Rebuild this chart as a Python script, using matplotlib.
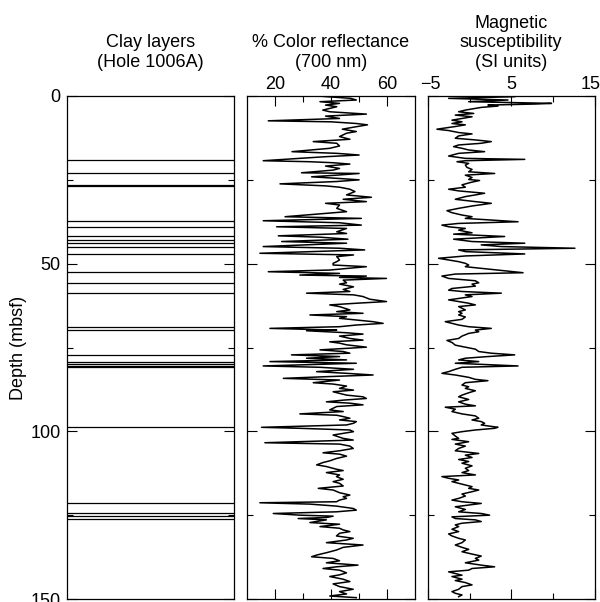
import numpy as np
import matplotlib
matplotlib.use("Agg")
import matplotlib.pyplot as plt
import matplotlib.transforms as mtransforms
from matplotlib.ticker import FixedLocator, NullFormatter

plt.rcParams['font.family'] = ['Liberation Sans', 'DejaVu Sans']
plt.rcParams['font.size'] = 13

# clay layer depths (mbsf)
clay_depths = [19.1, 22.9, 26.4, 26.9, 37.3, 39.0, 41.8, 42.9, 43.9, 45.1, 47.2,
               52.4, 55.9, 58.7, 69.0, 69.8, 77.2, 79.4, 79.9, 80.5, 80.9,
               98.8, 121.5, 124.5, 125.1, 126.0]

# color reflectance (700 nm): depth, percent
refl_depth = [0.0, 0.7, 1.2, 1.7, 2.2, 2.7, 3.2, 4.2, 4.7, 5.4, 6.0, 6.7, 7.4, 7.7, 8.2, 8.6, 9.3, 9.9,
              10.6, 11.1, 12.1, 12.9, 13.6, 14.1, 14.9, 15.6, 16.6, 17.1, 17.6, 18.1, 19.3, 19.6, 19.9,
              20.3, 20.9, 21.6, 22.1, 22.9, 23.1, 23.6, 24.1, 24.6, 25.0, 25.5, 26.2, 26.8, 27.2, 27.8,
              28.5, 29.5, 30.2, 30.8, 31.5, 32.0, 32.5, 33.5, 34.5, 36.0, 36.5, 37.2, 37.8, 38.5, 39.0,
              39.5, 40.5, 41.0, 41.7, 42.1, 42.7, 43.4, 43.9, 44.9, 45.4, 45.9, 46.9, 47.4, 47.9, 48.9,
              49.4, 49.9, 50.4, 50.9, 51.9, 52.4, 52.9, 53.4, 53.7, 54.1, 54.4, 54.9, 55.7, 56.1, 56.9,
              57.7, 58.3, 58.8, 59.3, 59.8, 60.6, 61.3, 61.8, 62.3, 62.8, 63.8, 64.3, 64.8, 65.3, 65.8,
              66.3, 67.3, 67.8, 68.3, 68.8, 69.3, 69.8, 70.0, 70.6, 71.0, 71.6, 72.3, 72.8, 73.3, 73.7,
              74.2, 74.9, 75.2, 75.7, 76.2, 76.7, 77.2, 77.7, 78.2, 78.7, 79.2, 79.7, 80.5, 80.9, 81.5,
              82.2, 82.7, 83.2, 83.7, 84.2, 84.7, 85.5, 85.9, 86.5, 87.2, 87.7, 88.2, 89.2, 89.7, 90.2,
              90.7, 91.2, 91.6, 92.1, 92.6, 93.6, 94.1, 94.8, 95.2, 95.6, 96.1, 96.6, 97.1, 97.6, 98.1,
              98.8, 99.1, 99.6, 100.1, 101.1, 102.1, 102.6, 103.4, 103.8, 104.4, 105.1, 105.8, 106.4,
              106.8, 107.4, 108.1, 108.8, 109.3, 110.0, 110.5, 111.3, 111.7, 112.3, 113.0, 113.5, 114.3,
              115.0, 115.5, 116.3, 117.0, 117.5, 118.3, 119.0, 119.5, 120.0, 120.5, 121.0, 121.3, 121.7,
              122.3, 123.0, 123.5, 124.0, 124.5, 125.0, 125.3, 125.7, 126.0, 126.4, 127.2, 127.7, 128.4,
              128.9, 129.4, 129.9, 130.4, 131.2, 131.9, 132.4, 133.2, 133.9, 134.6, 135.4, 136.2, 136.9,
              137.4, 137.9, 138.6, 139.2, 139.9, 140.4, 140.9, 141.4, 142.2, 142.8, 143.3, 144.1, 144.8,
              145.5, 146.3, 147.1, 147.8, 148.5, 149.1, 149.6]
refl_value = [35, 47, 49, 36, 43, 38, 42, 37, 39.5, 52.6, 38, 43, 17.5, 40, 49, 53, 48, 44,
              49, 45.5, 43, 46.7, 33.6, 42, 43, 39.5, 26, 42, 50, 38, 15.7, 32.4, 40.7,
              46.7, 38, 43, 40.7, 29.4, 50, 42, 33, 43, 50, 42, 21.7, 38, 43, 46.7,
              48.5, 45.5, 54.4, 44.3, 52.6, 38, 43, 42, 45.5, 23.5, 50.8, 15.7, 43, 50.8, 20.5,
              45.5, 42, 45.5, 21.1, 36, 46, 22.3, 45.5, 15.7, 43, 52, 14.5, 48, 42, 43,
              42, 40.7, 40.7, 52.6, 39.5, 17.5, 43, 28.8, 52.6, 43, 59.8, 44.3, 45.5, 43, 48,
              44.3, 46.7, 31.2, 48, 51.4, 53.8, 59.8, 49, 39.5, 43, 46.7, 42, 51.4, 32.4, 45.5,
              43, 55, 58.6, 49, 43, 18.1, 42, 31.2, 45.5, 51.4, 43, 46.7, 51.4, 39.5, 43,
              45.5, 52.6, 46.7, 36, 44.3, 46.7, 25.8, 43, 31.2, 45.5, 18.1, 49, 15.7, 36, 48,
              34.8, 45.5, 55, 38.3, 22.9, 43, 33.6, 40.7, 45.5, 43, 48, 40.7, 45.5, 51.4, 52.6,
              44.3, 38.3, 46.7, 51.4, 42, 39.5, 44.3, 28.8, 42, 44.3, 46.7, 43, 49, 48, 45.5,
              15.1, 28.8, 46.7, 48, 40.7, 44.3, 47.9, 16.3, 43, 46.7, 47.9, 43, 37.1,
              43, 45.5, 41.9, 39.5, 37.1, 34.8, 38.3, 41.9, 44.3, 38.3, 43, 41.9, 44.3,
              40.7, 43, 44.3, 35.4, 40.7, 43, 46.7, 44.3, 45.5, 43, 41.9, 14.5, 32.4,
              41.9, 47.9, 49, 41.9, 19.3, 28.8, 40.7, 38.3, 28.2, 38.3, 32.4, 43, 36,
              43, 44.3, 46.7, 43, 41.9, 47.9, 45.5, 38.3, 51.4, 44.3, 41.9, 38.3, 34.8,
              33, 40.7, 43, 38.3, 49.6, 41.9, 37.1, 43, 45.5, 43, 39.5, 44.3, 46.7,
              40.7, 43, 47.9, 43, 45.5, 39.5, 49]

# magnetic susceptibility: depth, SI units
mag_depth = [0.2, 0.7, 1.2, 1.7, 2.2, 2.4, 2.7, 3.0, 3.4, 4.2, 4.7, 5.2, 5.7, 6.2, 7.2, 7.7, 8.2, 8.6,
             9.1, 9.9, 10.3, 10.9, 11.3, 11.9, 12.6, 13.1, 13.6, 14.1, 14.6, 15.1, 15.6, 16.1, 16.6,
             17.1, 17.9, 18.6, 18.9, 19.3, 19.6, 20.1, 20.6, 21.3, 21.9, 22.6, 23.1, 23.6, 24.3, 24.9,
             25.2, 25.8, 26.5, 27.2, 27.8, 28.3, 29.0, 29.5, 30.0, 30.8, 31.5, 32.0, 32.8, 33.5, 34.2,
             34.8, 35.5, 36.0, 36.5, 37.5, 38.0, 38.5, 39.0, 39.5, 40.0, 40.8, 41.2, 41.9, 42.7, 43.4,
             43.9, 44.4, 44.9, 45.4, 45.9, 46.4, 47.1, 47.7, 48.4, 48.9, 49.4, 49.9, 50.4, 50.9,
             52.7, 53.1, 53.7, 54.4, 55.1, 55.7, 56.1, 56.7, 57.4, 57.9, 58.3, 58.8, 59.3, 59.8, 60.8,
             61.3, 61.8, 62.3, 62.8, 63.8, 64.3, 64.8, 65.3, 65.9, 66.6, 67.3, 67.8, 68.3, 68.8, 69.3,
             69.8, 70.3, 70.8, 71.6, 72.3, 72.9, 73.5, 74.3, 74.9, 75.5, 76.2, 76.7, 77.2, 77.7, 78.2,
             78.7, 79.2, 79.7, 80.5, 80.9, 81.5, 82.2, 82.7, 83.2, 83.9, 84.5, 84.9, 85.5, 86.2, 86.7,
             87.2, 87.9, 88.5, 89.2, 89.7, 90.5, 91.2, 91.9, 92.4, 92.8, 93.4, 94.1, 94.8, 95.4, 96.1,
             96.6, 97.1, 97.6, 98.1, 98.8, 99.1, 99.6, 100.1, 100.6, 101.4, 102.1,
             102.4, 103.1, 103.8, 104.4, 105.1, 105.8, 106.6, 107.1, 107.8, 108.4, 109.0, 109.5, 110.3,
             111.0, 111.7, 112.3, 113.0, 113.5, 114.0, 114.5, 115.0, 115.5, 116.0, 116.5, 117.0, 117.5,
             118.0, 118.7, 119.3, 120.0, 120.5, 121.0, 121.5, 122.0, 122.5, 123.3, 124.0, 124.5, 125.0,
             125.5, 126.0, 126.4, 126.9, 127.4, 127.9, 128.4, 129.2, 129.9, 130.6, 131.2, 131.9, 132.4,
             133.2, 133.9, 134.6, 135.2, 135.9, 136.6, 137.2, 137.9, 138.4, 139.2, 139.9, 140.4, 140.9,
             141.4, 141.9, 142.4, 142.9, 143.3, 144.1, 144.5, 145.1, 145.8, 146.3, 147.1, 147.8, 148.3,
             148.8, 149.3]
mag_value = [5.4, -2.5, 4.6, -0.1, 9.8, 7.8, 2.2, 3.4, 1.4, -0.5, -1.3, 0.5, -1.7, 0.3, -2.1, -0.9, -2.1, -0.5,
             -1.7, -3.9, -2.5, -1.3, 0.3, -1.3, -1.7, 0.7, 2.6, 1.4, -1.3, -1.9, -0.9, -0.1, 1.8,
             -1.3, -2.5, -0.5, 6.6, -0.5, -1.5, -0.1, -0.5, -0.3, 0.3, -0.1, 3.0, -0.5, 0.3, -0.1,
             1.2, 0.1, -0.9, -0.5, -2.5, -1.3, 1.8, 0.7, -0.5, -1.7, 0.7, 2.6, 0.3, -1.3, -2.7,
             -2.1, -0.9, 0.3, -0.5, 5.8, -1.3, -3.3, -2.5, -0.5, -1.3, 0.3, -1.9, 4.2, -1.9, 0.3,
             6.6, 1.4, 3.8, 12.6, -1.3, -0.5, 6.6, -0.5, -3.7, -2.5, -1.3, -0.5, -0.1, -0.5,
             6.4, -1.7, -3.3, -2.5, 0.7, 1.1, 0.3, 0.7, -2.1, -2.5, -0.9, 3.8, -0.5, 0.3, -2.5,
             -1.3, -0.1, 0.7, -1.3, -0.5, -1.3, -0.9, -1.3, -0.5, -0.9, -2.9, -2.1, -1.3, -0.1, 2.6,
             0.7, 1.1, -0.1, -0.9, -1.3, -2.7, -2.1, -1.7, -0.5, 0.7, 1.1, 2.6, 5.4, 2.2, -0.5,
             -1.3, 1.1, -1.7, 5.8, -0.9, -1.7, -2.5, -3.3, -1.7, -0.1, 0.7, 2.2, -0.5, -0.9, -0.1,
             -0.5, 0.7, -0.1, -0.9, -1.3, -0.1, -1.3, -0.5, 0.7, -2.9, -1.7, -2.1, -0.9, 0.7, 1.1,
             0.3, 1.4, 1.8, 1.4, 3.4, 3.0, 0.7, -0.9, -2.1, -1.7, -1.3,
             -2.1, -0.1, -1.7, -0.5, -1.3, -1.7, 1.1, -0.5, 0.3, -1.3, -0.1, -0.9, 0.3,
             -0.5, -0.1, -0.9, 0.7, -3.3, -2.5, -1.3, -2.1, -1.3, -0.5, 0.3, -0.1, 1.1,
             0.3, -0.9, -0.5, -1.3, -2.1, -0.9, 1.4, -0.1, -1.7, -0.5, -1.3, 1.4, 2.4,
             -2.1, -1.7, 0.7, 1.4, -0.9, -1.7, -1.3, -2.1, -1.3, -2.5, -2.1, -1.3, -0.5,
             -0.9, -1.7, -0.9, -0.1, -0.9, 0.3, 1.4, 0.7, 1.1, -0.5, 1.4, 3.0, 0.3,
             -0.1, -2.5, -1.7, -0.9, -2.1, -0.9, -1.7, -0.5, 0.3, -0.9, -1.3, -2.1, -1.7,
             -0.9, -1.3]

fig = plt.figure(figsize=(6.0, 6.02), dpi=100)
W, H = 600.0, 602.0

def make_axes(x0, x1):
    return fig.add_axes([x0 / W, 1 - 599 / H, (x1 - x0) / W, (599 - 96) / H])

ax1 = make_axes(67, 234)
ax2 = make_axes(247.3, 415)
ax3 = make_axes(427.7, 595)

for ax in (ax1, ax2, ax3):
    ax.set_ylim(150, 0)
    ax.yaxis.set_major_locator(FixedLocator([0, 50, 100, 150]))
    ax.yaxis.set_minor_locator(FixedLocator([25, 75, 125]))
    ax.tick_params(axis='both', which='both', direction='in', width=0.8,
                   top=True, bottom=True, left=True, right=True)
    ax.tick_params(which='major', length=7.5)
    ax.tick_params(which='minor', length=4.5)
    for s in ax.spines.values():
        s.set_linewidth(0.9)

# clay layers
ax1.hlines(clay_depths, 0, 1, color='black', lw=0.9)
ax1.set_xlim(0, 1)
ax1.set_xticks([])
ax1.tick_params(axis='y', labelsize=13, pad=4.5)
ax1.set_yticklabels(['0', '50', '100', '150'])

# reflectance
ax2.plot(refl_value, refl_depth, color='black', lw=1.1)
ax2.set_xlim(10, 70)
ax2.xaxis.set_major_locator(FixedLocator([20, 40, 60]))
ax2.xaxis.set_minor_locator(FixedLocator([30, 50]))

# magnetic susceptibility
ax3.plot(mag_value, mag_depth, color='black', lw=1.1)
ax3.set_xlim(-5, 15)
ax3.xaxis.set_major_locator(FixedLocator([-5, 5, 15]))
ax3.xaxis.set_minor_locator(FixedLocator([0, 10]))

for ax in (ax2, ax3):
    ax.yaxis.set_major_formatter(NullFormatter())
    ax.tick_params(axis='x', labeltop=True, labelbottom=False, pad=2.5, labelsize=13)

# nudge the end labels of the susceptibility axis inside the figure
mticks = ax3.xaxis.get_major_ticks()
for tk, dx in ((mticks[0], 3), (mticks[2], -4)):
    off = mtransforms.ScaledTranslation(dx / 100, 0, fig.dpi_scale_trans)
    tk.label2.set_transform(tk.label2.get_transform() + off)

fig.text(150.5 / W, 1 - 67 / H, 'Clay layers\n(Hole 1006A)', ha='center', va='baseline',
         fontsize=13, linespacing=1.2)
fig.text(331 / W, 1 - 67 / H, '% Color reflectance\n(700 nm)', ha='center', va='baseline',
         fontsize=13, linespacing=1.2)
fig.text(511 / W, 1 - 67 / H, 'Magnetic\nsusceptibility\n(SI units)', ha='center', va='baseline',
         fontsize=13, linespacing=1.2)
fig.text(19 / W, 1 - 348 / H, 'Depth (mbsf)', rotation=90, ha='center', va='center', fontsize=13)

fig.savefig('out.png', dpi=100)
